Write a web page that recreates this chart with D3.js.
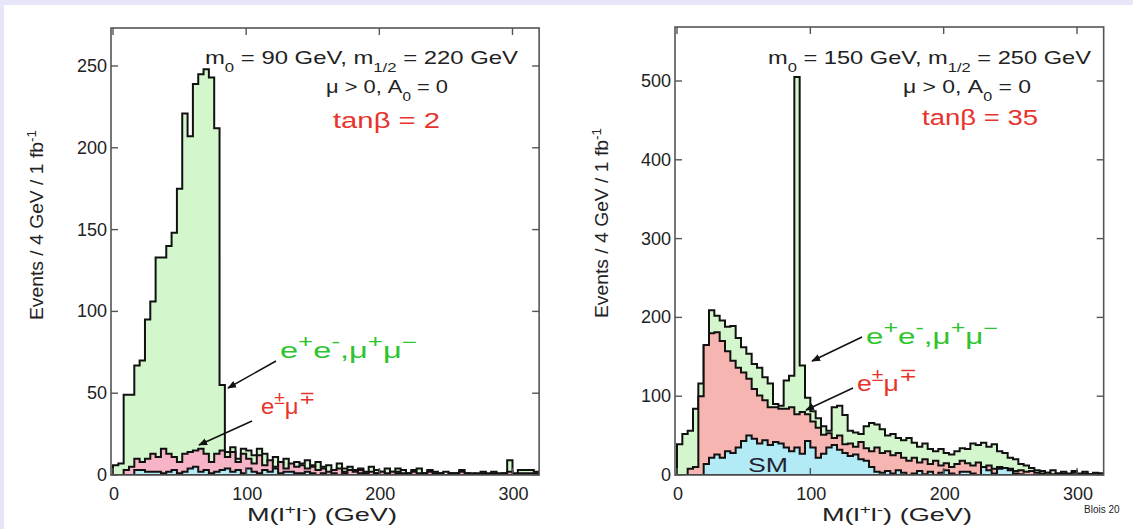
<!DOCTYPE html>
<html>
<head>
<meta charset="utf-8">
<script src="https://cdn.jsdelivr.net/npm/d3@7"></script>
<style>
  html, body { margin: 0; padding: 0; background: #e6e6f8; }
  svg { display: block; }
  text { font-family: "Liberation Sans", Arial, sans-serif; }
</style>
</head>
<body>
<svg id="chart" width="1133" height="529"></svg>
<script>
// 4 GeV bins, 0..320 GeV (80 bins)
var binWidth = 4;

// left panel: m0 = 90, m1/2 = 220, tanb = 2
var leftSF = [
  6, 7, 49, 49, 67, 70, 95, 106, 133, 133, 140, 148, 175, 221, 207, 239, 245, 248, 243, 212, 55,
  14, 17, 10, 16, 15, 12, 16, 13, 8, 11, 6, 10, 5, 8, 7, 9, 6, 8, 5, 6,
  3, 7, 4, 5, 3, 4, 2, 5, 3, 2, 4, 2, 4, 3, 1, 3, 4, 1, 3, 2,
  1, 2, 1, 1, 3, 1, 1, 0, 2, 1, 2, 1, 1, 9, 1, 3, 3, 3, 2
];
var leftOF = [
  0, 0, 3, 5, 10, 8, 10, 13, 11, 16, 13, 11, 8, 13, 14, 15, 16, 13, 8, 13, 15,
  11, 14, 8, 13, 10, 7, 12, 6, 9, 5, 8, 4, 7, 5, 6, 4, 5, 3, 4, 2,
  3, 4, 2, 3, 2, 3, 1, 2, 1, 2, 1, 2, 2, 1, 1, 2, 1, 1, 2, 1,
  1, 0, 1, 1, 2, 1, 0, 1, 1, 0, 1, 0, 1, 2, 0, 1, 1, 1, 1
];
var leftSM = [
  0, 0, 0, 0, 3, 3, 2, 2, 2, 1, 2, 3, 1, 2, 4, 5, 2, 3, 1, 2, 3,
  4, 2, 3, 1, 4, 2, 1, 3, 2, 4, 1, 2, 2, 1, 1, 2, 1, 0, 1, 0,
  1, 0, 1, 0, 0, 1, 0, 0, 1, 0, 0, 0, 1, 0, 0, 0, 0, 0, 0, 0,
  0, 0, 0, 0, 0, 0, 0, 0, 0, 0, 0, 0, 0, 0, 0, 0, 0, 0, 0
];

// right panel: m0 = 150, m1/2 = 250, tanb = 35
var rightSF = [
  39, 52, 56, 84, 116, 164, 209, 202, 196, 188, 189, 174, 162, 154, 141, 136, 124, 116, 90, 88, 120,
  126, 505, 139, 98, 81, 72, 62, 56, 86, 88, 76, 56, 54, 52, 62, 66, 64, 58, 50, 52,
  47, 44, 47, 41, 36, 40, 33, 30, 33, 28, 26, 30, 34, 33, 40, 38, 41, 36, 39, 30,
  28, 22, 20, 14, 12, 9, 6, 5, 3, 6, 2, 4, 2, 5, 2, 4, 1, 3, 2
];
var rightOF = [
  0, 0, 8, 10, 100, 165, 180, 181, 170, 157, 145, 136, 130, 122, 109, 101, 95, 86, 86, 84, 84,
  86, 77, 80, 77, 68, 60, 51, 53, 47, 50, 39, 40, 36, 42, 34, 30, 35, 28, 30, 25,
  28, 22, 18, 22, 16, 20, 14, 18, 12, 15, 10, 14, 18, 15, 12, 16, 10, 12, 8, 10,
  6, 8, 5, 6, 4, 5, 3, 2, 3, 1, 2, 2, 1, 3, 1, 2, 1, 1, 2
];
var rightSM = [
  0, 0, 0, 0, 0, 14, 22, 26, 22, 30, 28, 35, 43, 50, 46, 40, 44, 38, 42, 40, 35,
  30, 35, 27, 43, 35, 22, 27, 35, 38, 32, 28, 24, 26, 20, 18, 10, 4, 3, 5, 2,
  6, 3, 0, 2, 5, 1, 4, 0, 3, 6, 2, 0, 4, 4, 2, 0, 10, 6, 2, 8,
  9, 6, 2, 1, 0, 0, 0, 0, 0, 0, 0, 0, 0, 0, 0, 0, 0, 0, 0
];

var xTicks = [0, 100, 200, 300];
var leftYTicks = [0, 50, 100, 150, 200, 250];
var rightYTicks = [0, 100, 200, 300, 400, 500];

var GREEN = "#d4f6cd", PINK_L = "#f7b4c6", PINK_R = "#f7b5b1", CYAN = "#b2ebf6";
var RED = "#e8332c", GREEN_TXT = "#2ec42e";

var svg = d3.select("#chart");

svg.append("rect")
    .attr("x", 4).attr("y", 5)
    .attr("width", 1133 - 4).attr("height", 529 - 5)
    .attr("fill", "#fff");

var defs = svg.append("defs");
defs.append("marker")
    .attr("id", "arrow")
    .attr("viewBox", "0 0 10 10")
    .attr("refX", 9).attr("refY", 5)
    .attr("markerWidth", 9).attr("markerHeight", 9)
    .attr("markerUnits", "userSpaceOnUse")
    .attr("orient", "auto")
    .append("path")
    .attr("d", "M0,1 L10,5 L0,9 Z")
    .attr("fill", "#111");

// text with sub/superscript pieces: [string, "sup"|"sub"|undefined]
// the original figure is stretched sideways, so widths are forced with textLength
function richText(g, x, y, parts, opts) {
    var t = g.append("text")
        .attr("x", x).attr("y", y)
        .attr("font-size", opts.size)
        .attr("fill", opts.color || "#222")
        .attr("text-anchor", opts.anchor || "start");
    if (opts.len) t.attr("textLength", opts.len).attr("lengthAdjust", "spacingAndGlyphs");
    if (opts.transform) t.attr("transform", opts.transform);
    var sc = opts.supScale || 0.7;
    parts.forEach(function(p) {
        var s = t.append("tspan").text(p[0]);
        if (p[1] === "sup") s.attr("baseline-shift", "super").attr("font-size", opts.size * sc);
        if (p[1] === "sub") s.attr("baseline-shift", "sub").attr("font-size", opts.size * sc);
    });
    return t;
}

function drawPanel(cfg) {
    var x = d3.scaleLinear().domain([0, 300]).range(cfg.xRange);
    var y = d3.scaleLinear().domain([0, cfg.yMax]).range([475, cfg.yTop]);
    var left = x(-1.5), right = x(320), top = cfg.frameTop, bottom = 475;

    var g = svg.append("g");
    var clipId = "clip" + cfg.id;
    defs.append("clipPath").attr("id", clipId)
        .append("rect")
        .attr("x", left).attr("y", top)
        .attr("width", right - left).attr("height", bottom - top);

    var area = d3.area()
        .curve(d3.curveStepAfter)
        .x(function(d) { return x(d.m); })
        .y0(y(0))
        .y1(function(d) { return y(d.v); });

    function toPoints(vals) {
        var pts = vals.map(function(v, i) { return {m: i * binWidth, v: v}; });
        pts.push({m: vals.length * binWidth, v: vals[vals.length - 1]});
        return pts;
    }

    var hg = g.append("g").attr("clip-path", "url(#" + clipId + ")");
    [[cfg.sf, GREEN], [cfg.of, cfg.pink], [cfg.sm, CYAN]].forEach(function(h) {
        hg.append("path")
            .datum(toPoints(h[0]))
            .attr("d", area)
            .attr("fill", h[1])
            .attr("stroke", "#111")
            .attr("stroke-width", 2)
            .attr("stroke-linejoin", "miter");
    });

    // frame
    g.append("rect")
        .attr("x", left).attr("y", top)
        .attr("width", right - left).attr("height", bottom - top)
        .attr("fill", "none")
        .attr("stroke", "#555")
        .attr("stroke-width", 1.6);

    var tl = 7;
    // ticks on all four sides, pointing in
    cfg.xTicks.forEach(function(t) {
        g.append("line").attr("x1", x(t)).attr("x2", x(t))
            .attr("y1", top).attr("y2", top + tl)
            .attr("stroke", "#555").attr("stroke-width", 1.4);
        g.append("line").attr("x1", x(t)).attr("x2", x(t))
            .attr("y1", bottom).attr("y2", bottom - tl)
            .attr("stroke", "#555").attr("stroke-width", 1.4);
        g.append("text")
            .attr("x", x(t) + 1).attr("y", 500)
            .attr("text-anchor", "middle")
            .attr("font-size", 18).attr("fill", "#222")
            .text(t);
    });
    cfg.yTicks.forEach(function(t) {
        g.append("line").attr("x1", left).attr("x2", left + tl)
            .attr("y1", y(t)).attr("y2", y(t))
            .attr("stroke", "#555").attr("stroke-width", 1.4);
        g.append("line").attr("x1", right).attr("x2", right - tl)
            .attr("y1", y(t)).attr("y2", y(t))
            .attr("stroke", "#555").attr("stroke-width", 1.4);
        g.append("text")
            .attr("x", left - 4).attr("y", y(t) + 6)
            .attr("text-anchor", "end")
            .attr("font-size", 18).attr("fill", "#222")
            .text(t);
    });

    // axis titles
    richText(g, cfg.xLabelX, 521, [["M(l"], ["+", "sup"], ["l"], ["-", "sup"], [") (GeV)"]],
        {size: 19, len: 150});
    richText(g, 0, 0, [["Events / 4 GeV / 1 fb"], ["-1", "sup"]],
        {size: 18, len: 190, transform: "translate(" + cfg.yLabelX + "," + cfg.yLabelY + ") rotate(-90)"});

    // model parameters
    richText(g, cfg.m0X, 64, [["m"], ["0", "sub"], [" = " + cfg.m0 + " GeV, m"], ["1/2", "sub"], [" = " + cfg.m12 + " GeV"]],
        {size: 19, len: cfg.m0Len});
    richText(g, cfg.muX, 93, [["\u03bc > 0, A"], ["0", "sub"], [" = 0"]], {size: 19, len: cfg.muLen});
    richText(g, cfg.tanX, cfg.tanY, [["tan\u03b2 = " + cfg.tanb]], {size: 22, color: RED, len: cfg.tanLen});

    // process labels and arrows
    richText(g, cfg.sfLab[0], cfg.sfLab[1],
        [["e"], ["+", "sup"], ["e"], ["-", "sup"], [",\u03bc"], ["+", "sup"], ["\u03bc"], ["\u2212", "sup"]],
        {size: 22, color: GREEN_TXT, len: cfg.sfLab[2], supScale: 0.8});
    richText(g, cfg.ofLab[0], cfg.ofLab[1],
        [["e"], ["\u00b1", "sup"], ["\u03bc"], ["\u2213", "sup"]],
        {size: 22, color: RED, len: cfg.ofLab[2], supScale: 0.8});
    [cfg.sfArrow, cfg.ofArrow].forEach(function(a) {
        g.append("line")
            .attr("x1", a[0]).attr("y1", a[1]).attr("x2", a[2]).attr("y2", a[3])
            .attr("stroke", "#111").attr("stroke-width", 1.5)
            .attr("marker-end", "url(#arrow)");
    });
    return g;
}

drawPanel({
    id: "L", xRange: [113, 512.5], yMax: 250, yTop: 66, frameTop: 28,
    sf: leftSF, of: leftOF, sm: leftSM, pink: PINK_L,
    xTicks: xTicks, yTicks: leftYTicks,
    xLabelX: 247, yLabelX: 43, yLabelY: 320,
    m0: 90, m12: 220, m0X: 205, m0Len: 313,
    muX: 326, muLen: 122,
    tanb: 2, tanX: 333, tanY: 128, tanLen: 107,
    sfLab: [280, 358, 137], ofLab: [261, 414, 54],
    sfArrow: [276, 361, 228, 388], ofArrow: [252, 421, 199, 445]
});

var right = drawPanel({
    id: "R", xRange: [677, 1077], yMax: 500, yTop: 81, frameTop: 27,
    sf: rightSF, of: rightOF, sm: rightSM, pink: PINK_R,
    xTicks: xTicks, yTicks: rightYTicks,
    xLabelX: 822, yLabelX: 608, yLabelY: 318,
    m0: 150, m12: 250, m0X: 768, m0Len: 323,
    muX: 903, muLen: 128,
    tanb: 35, tanX: 922, tanY: 125, tanLen: 116,
    sfLab: [866, 344, 132], ofLab: [857, 391, 60],
    sfArrow: [862, 337, 812, 361], ofArrow: [853, 388, 806, 410]
});

right.append("text")
    .attr("x", 748).attr("y", 472)
    .attr("font-size", 20).attr("fill", "#223")
    .attr("textLength", 40).attr("lengthAdjust", "spacingAndGlyphs")
    .text("SM");

svg.append("text")
    .attr("x", 1084).attr("y", 513)
    .attr("font-size", 10).attr("fill", "#222")
    .text("Blois 20");
</script>
</body>
</html>
